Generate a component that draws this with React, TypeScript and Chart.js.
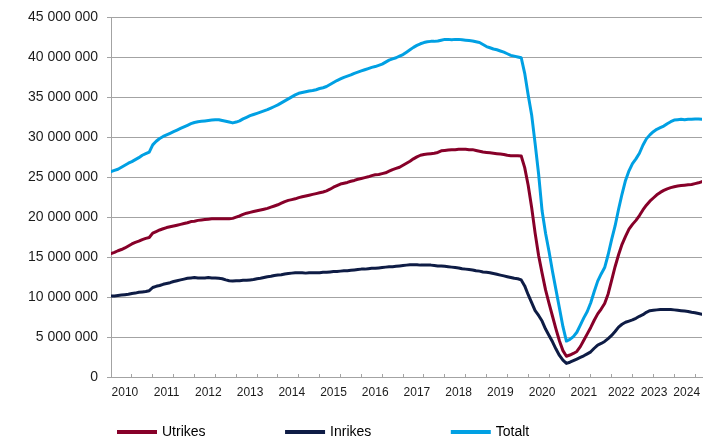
import { useEffect, useRef } from 'react';
import { Chart, registerables } from 'chart.js';

Chart.register(...registerables);

// Tick labels (years) shown on the x axis
const YEAR_LABELS = ['2010', '2011', '2012', '2013', '2014', '2015', '2016', '2017', '2018', '2019', '2020', '2021', '2022', '2023', '2024'];

const SERIES_NAMES = ['Utrikes', 'Inrikes', 'Totalt'];

// Monthly values, millions of passengers (rolling 12 months)
const UTRIKES = [
  15.45, 15.60, 15.80, 15.95, 16.15, 16.40, 16.65, 16.85, 17.00, 17.20, 17.35, 17.45,
  18.00, 18.20, 18.40, 18.55, 18.70, 18.80, 18.90, 19.00, 19.10, 19.20, 19.30, 19.45,
  19.50, 19.60, 19.65, 19.70, 19.75, 19.80, 19.80, 19.80, 19.80, 19.80, 19.80, 19.85,
  20.00, 20.15, 20.35, 20.50, 20.60, 20.70, 20.80, 20.90, 21.00, 21.10, 21.25, 21.40,
  21.55, 21.75, 21.95, 22.10, 22.20, 22.30, 22.45, 22.55, 22.65, 22.75, 22.85, 22.95,
  23.05, 23.15, 23.30, 23.50, 23.75, 23.95, 24.15, 24.25, 24.35, 24.50, 24.60, 24.75,
  24.85, 24.95, 25.05, 25.20, 25.30, 25.35, 25.45, 25.55, 25.75, 25.95, 26.10, 26.25,
  26.50, 26.75, 27.00, 27.30, 27.55, 27.75, 27.85, 27.90, 27.95, 28.00, 28.10, 28.30,
  28.35, 28.40, 28.45, 28.45, 28.50, 28.50, 28.50, 28.45, 28.45, 28.35, 28.25, 28.15,
  28.10, 28.05, 28.00, 27.95, 27.90, 27.85, 27.75, 27.70, 27.70, 27.70, 27.65, 26.20,
  24.00, 21.20, 18.00, 15.20, 13.00, 10.90, 9.20, 7.60, 6.00, 4.50, 3.30, 2.60,
  2.75, 2.95, 3.20, 3.80, 4.60, 5.40, 6.20, 7.10, 7.90, 8.50, 9.20, 10.40,
  12.10, 13.80, 15.30, 16.60, 17.60, 18.50, 19.10, 19.60, 20.20, 20.90, 21.50, 22.00,
  22.40, 22.80, 23.10, 23.35, 23.55, 23.70, 23.80, 23.90, 23.95, 24.00, 24.05, 24.10,
  24.20, 24.30, 24.45,
];

const INRIKES = [
  10.15, 10.15, 10.20, 10.25, 10.30, 10.35, 10.45, 10.50, 10.60, 10.65, 10.70, 10.80,
  11.20, 11.35, 11.45, 11.60, 11.70, 11.80, 11.95, 12.05, 12.15, 12.25, 12.35, 12.40,
  12.45, 12.40, 12.40, 12.40, 12.45, 12.40, 12.40, 12.35, 12.30, 12.15, 12.05, 12.00,
  12.05, 12.05, 12.10, 12.10, 12.15, 12.20, 12.30, 12.35, 12.45, 12.55, 12.60, 12.70,
  12.75, 12.80, 12.90, 12.95, 13.00, 13.05, 13.05, 13.05, 13.00, 13.05, 13.05, 13.05,
  13.05, 13.10, 13.10, 13.15, 13.20, 13.20, 13.25, 13.30, 13.30, 13.35, 13.40, 13.45,
  13.50, 13.50, 13.55, 13.60, 13.60, 13.65, 13.70, 13.75, 13.80, 13.80, 13.85, 13.90,
  13.95, 14.00, 14.05, 14.05, 14.05, 14.00, 14.00, 14.00, 14.00, 13.95, 13.90, 13.90,
  13.85, 13.80, 13.75, 13.70, 13.65, 13.55, 13.50, 13.45, 13.40, 13.30, 13.25, 13.15,
  13.10, 13.05, 12.95, 12.85, 12.75, 12.65, 12.55, 12.45, 12.35, 12.30, 12.15, 11.40,
  10.30, 9.30, 8.30, 7.70, 7.00, 6.00, 5.20, 4.40, 3.50, 2.70, 2.10, 1.70,
  1.85, 2.05, 2.25, 2.45, 2.65, 2.90, 3.15, 3.60, 4.00, 4.20, 4.45, 4.80,
  5.20, 5.70, 6.25, 6.60, 6.85, 7.00, 7.15, 7.35, 7.60, 7.80, 8.10, 8.30,
  8.35, 8.40, 8.45, 8.45, 8.45, 8.45, 8.40, 8.35, 8.30, 8.25, 8.20, 8.10,
  8.05, 7.95, 7.85,
];

const TOTALT = [
  25.70, 25.85, 26.00, 26.25, 26.50, 26.75, 26.95, 27.20, 27.45, 27.75, 27.95, 28.15,
  29.05, 29.50, 29.85, 30.10, 30.30, 30.50, 30.70, 30.90, 31.10, 31.30, 31.50, 31.70,
  31.85, 31.95, 32.00, 32.05, 32.10, 32.15, 32.20, 32.20, 32.10, 32.00, 31.90, 31.80,
  31.90, 32.05, 32.30, 32.50, 32.70, 32.85, 33.00, 33.15, 33.30, 33.45, 33.65, 33.85,
  34.05, 34.30, 34.55, 34.80, 35.05, 35.30, 35.50, 35.60, 35.70, 35.80, 35.85, 35.95,
  36.10, 36.20, 36.35, 36.60, 36.85, 37.10, 37.30, 37.50, 37.65, 37.80, 38.00, 38.15,
  38.30, 38.45, 38.60, 38.75, 38.85, 39.00, 39.15, 39.40, 39.65, 39.80, 39.95, 40.15,
  40.35, 40.65, 40.95, 41.25, 41.50, 41.70, 41.85, 41.95, 42.00, 42.00, 42.05, 42.15,
  42.25, 42.25, 42.20, 42.25, 42.25, 42.20, 42.15, 42.10, 42.05, 41.95, 41.85, 41.60,
  41.35, 41.20, 41.05, 40.95, 40.80, 40.65, 40.45, 40.25, 40.15, 40.05, 39.95, 38.00,
  35.30, 32.80, 29.20, 25.40, 20.80, 18.00, 15.70, 13.20, 10.90, 8.60, 6.30, 4.50,
  4.70, 5.05, 5.60, 6.50, 7.40, 8.20, 9.30, 10.70, 12.00, 12.90, 13.70, 15.30,
  17.20, 18.90, 21.00, 22.90, 24.60, 25.80, 26.70, 27.30, 28.00, 29.00, 29.80, 30.30,
  30.70, 31.00, 31.20, 31.40, 31.70, 31.95, 32.15, 32.20, 32.25, 32.20, 32.25, 32.25,
  32.30, 32.30, 32.25,
];

const SERIES_COLORS = ['#870029', '#0E1C45', '#00A0E3'];

const MILLION = 1000000;
const Y_MAX = 45000000;
const Y_STEP = 5000000;

const FONT = '"Liberation Sans", Arial, Helvetica, sans-serif';
const GRID = '#a3a3a3';
const TEXT = '#1c1c1c';

function fmt(v: number): string {
  return String(Math.round(v)).replace(/\B(?=(\d{3})+(?!\d))/g, ' ');
}

function toPoints(arr: number[]) {
  return arr.map((v, i) => ({ x: i, y: v * MILLION }));
}

const bottomLegend = {
  id: 'bottomLegend',
  afterDraw(chart: any) {
    const ctx = chart.ctx as CanvasRenderingContext2D;
    ctx.save();
    ctx.font = '14px ' + FONT;
    ctx.textBaseline = 'middle';
    ctx.textAlign = 'left';
    const y = 432;
    let x = 117;
    chart.data.datasets.forEach((ds: any) => {
      ctx.strokeStyle = ds.borderColor;
      ctx.lineWidth = 4;
      ctx.lineCap = 'butt';
      ctx.beginPath();
      ctx.moveTo(x, y);
      ctx.lineTo(x + 40, y);
      ctx.stroke();
      ctx.fillStyle = '#000';
      ctx.fillText(ds.label, x + 45, y);
      x += 45 + ctx.measureText(ds.label).width + 79.5;
    });
    ctx.restore();
  },
};

export default function App() {
  const ref = useRef<HTMLCanvasElement | null>(null);

  useEffect(() => {
    if (!ref.current) return;
    Chart.defaults.font.family = FONT;
    const lastIdx = TOTALT.length - 1;

    const markTicks: number[] = [];
    for (let v = 0; v <= lastIdx; v += 6) markTicks.push(v);

    const labelPos = YEAR_LABELS.map((_, k) => k * 12 + 4);
    let limit = lastIdx - 4.4;
    for (let k = labelPos.length - 1; k >= 0; k--) {
      labelPos[k] = Math.min(labelPos[k], limit);
      limit = labelPos[k] - 9.4;
    }
    const labelAt = new Map<number, string>();
    labelPos.forEach((p, k) => labelAt.set(p, YEAR_LABELS[k]));
    const allTicks = [...markTicks, ...labelPos].sort((a, b) => a - b);

    const seriesData = [UTRIKES, INRIKES, TOTALT];

    const chart = new Chart(ref.current, {
      type: 'line',
      data: {
        datasets: SERIES_NAMES.map((name, i) => ({
          label: name,
          data: toPoints(seriesData[i]),
          borderColor: SERIES_COLORS[i],
          backgroundColor: SERIES_COLORS[i],
          borderWidth: 3,
          pointRadius: 0,
          pointHoverRadius: 0,
          tension: 0,
          borderJoinStyle: 'round',
          borderCapStyle: 'round',
          fill: false,
        })),
      },
      options: {
        animation: false,
        responsive: true,
        maintainAspectRatio: false,
        layout: { padding: { top: 14, right: 9, bottom: 33, left: 0 } },
        plugins: {
          legend: { display: false },
          tooltip: { enabled: false },
          title: { display: false },
        },
        scales: {
          x: {
            type: 'linear',
            min: 0,
            max: lastIdx,
            afterBuildTicks: (s: any) => {
              s.ticks = allTicks.map((v) => ({ value: v }));
            },
            afterFit: (s: any) => {
              s.height = 30;
            },
            grid: {
              display: true,
              drawOnChartArea: false,
              drawTicks: true,
              tickLength: -3,
              tickWidth: 1,
              tickColor: (c: any) => (c.tick && labelAt.has(c.tick.value) ? 'rgba(0,0,0,0)' : GRID),
            },
            border: { display: true, color: GRID, width: 1 },
            ticks: {
              autoSkip: false,
              maxRotation: 0,
              minRotation: 0,
              padding: 11,
              color: TEXT,
              font: { family: FONT, size: 12 },
              callback: (v: any) => labelAt.get(Number(v)) ?? '',
            },
          },
          y: {
            min: 0,
            max: Y_MAX,
            afterFit: (s: any) => {
              s.width = 111;
            },
            grid: { color: GRID, drawTicks: true, tickLength: 4, lineWidth: 1 },
            border: { display: true, color: GRID, width: 1 },
            ticks: {
              stepSize: Y_STEP,
              padding: 9,
              color: TEXT,
              font: { family: FONT, size: 14 },
              callback: (v: any) => fmt(Number(v)),
            },
          },
        },
      },
      plugins: [bottomLegend],
    } as any);

    return () => chart.destroy();
  }, []);

  return (
    <div style={{ position: 'absolute', left: 0, top: 0, width: 711, height: 440 }}>
      <canvas ref={ref} />
    </div>
  );
}
